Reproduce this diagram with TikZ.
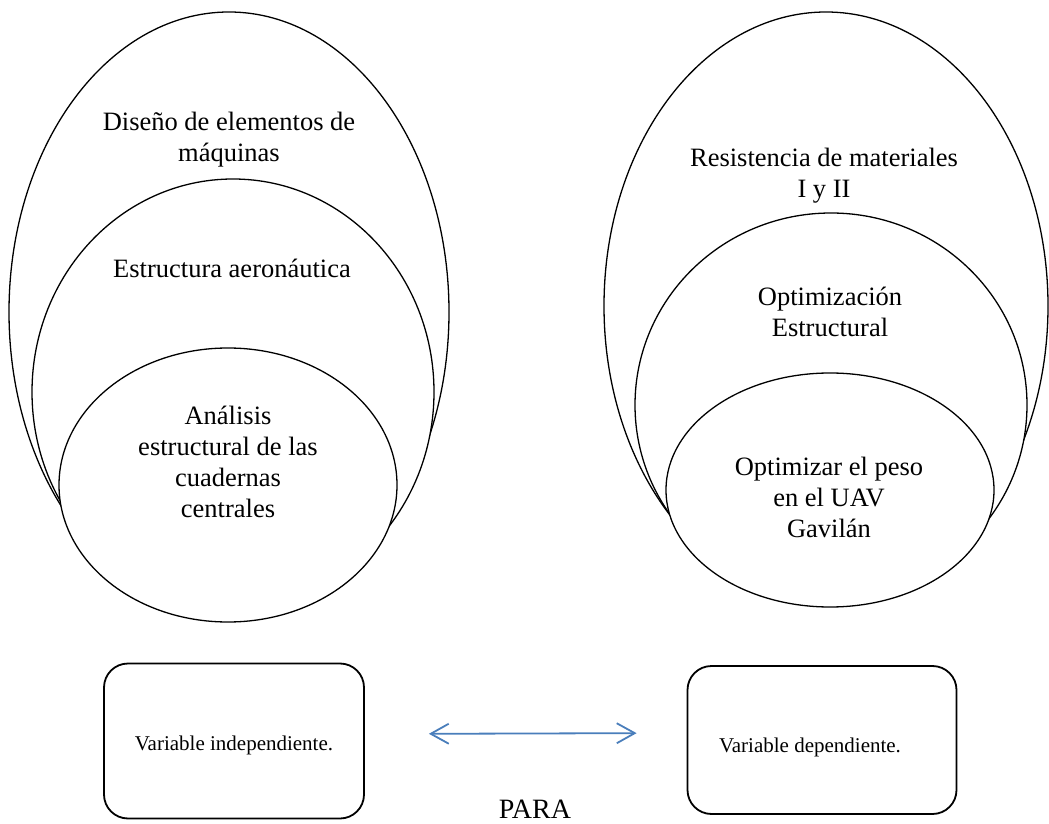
\documentclass[tikz,border=0pt]{standalone}
\usepackage{fontspec}
\setmainfont{Liberation Serif}
\usetikzlibrary{arrows.meta,shapes.geometric,positioning}
\definecolor{arrowblue}{RGB}{74,126,187}

\begin{document}
\begin{tikzpicture}
    [
        Ellipse1/.style={ellipse,draw,fill=white,line width=1.3pt,inner sep=0pt},
        TextBox1/.style={align=center,font=\fontsize{26.5}{31}\selectfont},
        TextBox2/.style={font=\fontsize{21}{25}\selectfont},
        Box1/.style={rectangle,rounded corners=24pt,draw,line width=1.8pt,inner sep=0pt}
    ]
    \useasboundingbox (0pt,0pt) rectangle (1049pt,823pt);

    \node[Ellipse1,minimum width=440pt,minimum height=600pt] (diseno_maquinas) at (229pt,511pt) {};
    \node[TextBox1] (diseno_maquinas_text) at (229pt,683pt) {Diseño de elementos de\\máquinas};
    \node[Ellipse1,minimum width=402pt,minimum height=426pt] (estructura_aeronautica) at (233pt,431pt) {};
    \node[TextBox1] (estructura_aeronautica_text) at (232pt,555pt) {Estructura aeronáutica};
    \node[Ellipse1,minimum width=338pt,minimum height=274pt] (analisis_cuadernas) at (228pt,338pt) {};
    \node[TextBox1] (analisis_cuadernas_text) at (228pt,361pt) {Análisis\\estructural de las\\cuadernas\\centrales};

    \node[Ellipse1,minimum width=444pt,minimum height=588pt] (resistencia_materiales) at (826pt,517pt) {};
    \node[TextBox1] (resistencia_materiales_text) at (824pt,647pt) {Resistencia de materiales\\I y II};
    \node[Ellipse1,minimum width=392pt,minimum height=384pt] (optimizacion_estructural) at (831pt,418pt) {};
    \node[TextBox1] (optimizacion_estructural_text) at (830pt,511pt) {Optimización\\Estructural};
    \node[Ellipse1,minimum width=328pt,minimum height=234pt] (optimizar_peso) at (830pt,333pt) {};
    \node[TextBox1] (optimizar_peso_text) at (829pt,326pt) {Optimizar el peso\\en el UAV\\Gavilán};

    \node[Box1,minimum width=260pt,minimum height=155pt] (variable_independiente) at (234pt,82pt) {};
    \node[TextBox2] (variable_independiente_text) at (234pt,78pt) {Variable independiente.};
    \node[Box1,minimum width=269pt,minimum height=148pt] (variable_dependiente) at (822pt,83pt) {};
    \node[TextBox2] (variable_dependiente_text) at (810pt,76pt) {Variable dependiente.};

    \node[font=\fontsize{28}{32}\selectfont] (para) at (535pt,14pt) {PARA};

    \draw[arrowblue, line width=1.8pt, <->, >={Straight Barb[length=18pt,width=20pt]},
          shorten <=64pt, shorten >=50pt]
        ([yshift=7pt]variable_independiente.east) -- ([yshift=7pt]variable_dependiente.west);
\end{tikzpicture}
\end{document}
